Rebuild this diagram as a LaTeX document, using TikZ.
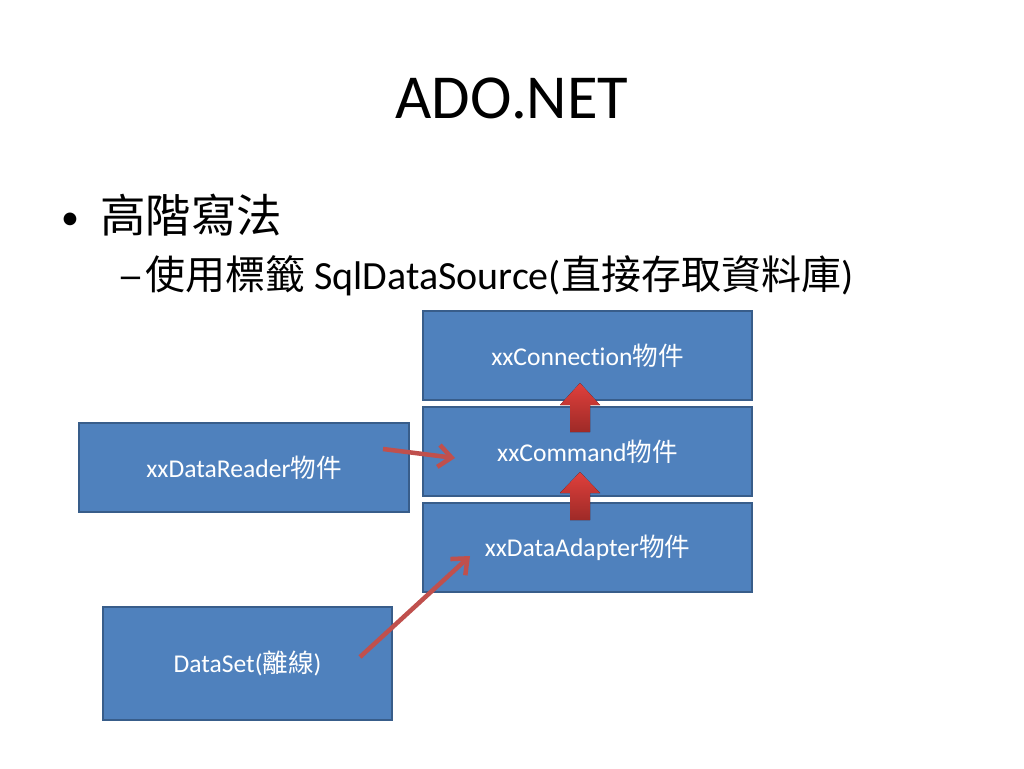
\documentclass[tikz,border=0pt]{standalone}
\usepackage{fontspec}
\setmainfont{Carlito}[Ligatures=NoCommon]
\newfontfamily\cjk{Noto Sans CJK TC}
\usetikzlibrary{arrows.meta,calc}
\definecolor{boxblue}{HTML}{4F81BD}
\definecolor{boxedge}{HTML}{385D8A}
\definecolor{arrred}{HTML}{C0504D}
\definecolor{arrtop}{HTML}{E0403C}
\definecolor{arrbot}{HTML}{9E2A27}
\newcommand\zh[1]{{\cjk #1}}
\tikzset{
  box/.style={draw=boxedge, line width=1.6pt, fill=boxblue, text=white, inner sep=0pt,
    font=\fontsize{25.6}{30}\selectfont},
  thinarrow/.style={draw=arrred, line width=4.5pt, -{Straight Barb[length=13pt,width=22pt,line width=4.5pt]}},
  blockarrow/.style={top color=arrtop, bottom color=arrbot, draw=none},
}
\begin{document}
\begin{tikzpicture}[x=1pt,y=-1pt]
\useasboundingbox[fill=white] (0,0) rectangle (1024,768);
% title
\node[anchor=base, inner sep=0pt, font=\fontsize{62.6}{70}\selectfont] (title) at (512,118) {ADO.NET};
% bullets
\node[anchor=base west, inner sep=0pt, font=\fontsize{36}{40}\selectfont] (b1) at (61,229) {\textbullet};
\node[anchor=base west, inner sep=0pt, font=\fontsize{45.5}{50}\selectfont] (t1) at (100,232) {\zh{高階寫法}};
\node[anchor=base west, inner sep=0pt, font=\fontsize{40}{46}\selectfont] (b2) at (117,289) {\scalebox{1.35}[1]{–}};
\node[anchor=base west, inner sep=0pt, font=\fontsize{40}{46}\selectfont] (t2) at (145,289) {\zh{使用標籤} SqlDataSource(\zh{直接存取資料庫})};
% boxes
\node[box, minimum width=329, minimum height=89] (conn) at (587.5,355.5) {xxConnection\zh{物件}};
\node[box, minimum width=329, minimum height=89] (cmd) at (587.5,451.5) {xxCommand\zh{物件}};
\node[box, minimum width=329, minimum height=89] (adp) at (587.5,547.5) {xxDataAdapter\zh{物件}};
\node[box, minimum width=330, minimum height=89] (rdr) at (244,467.5) {xxDataReader\zh{物件}};
\node[box, minimum width=289, minimum height=113] (ds) at (247.5,663.5) {DataSet(\zh{離線})};
% block arrows
\fill[blockarrow] (570,432) -- (570,405) -- (560,405) -- (580,383) -- (600,405) -- (590,405) -- (590,432) -- cycle;
\fill[blockarrow] (570,520) -- (570,493) -- (560,493) -- (580,472) -- (600,493) -- (590,493) -- (590,520) -- cycle;
% thin arrows
\coordinate (r1) at (383,449);
\coordinate (r2) at (455,458);
\coordinate (s1) at (360,657);
\coordinate (s2) at (470,556);
\draw[thinarrow] (r1) -- (r2);
\draw[thinarrow] (s1) -- (s2);
\end{tikzpicture}
\end{document}
